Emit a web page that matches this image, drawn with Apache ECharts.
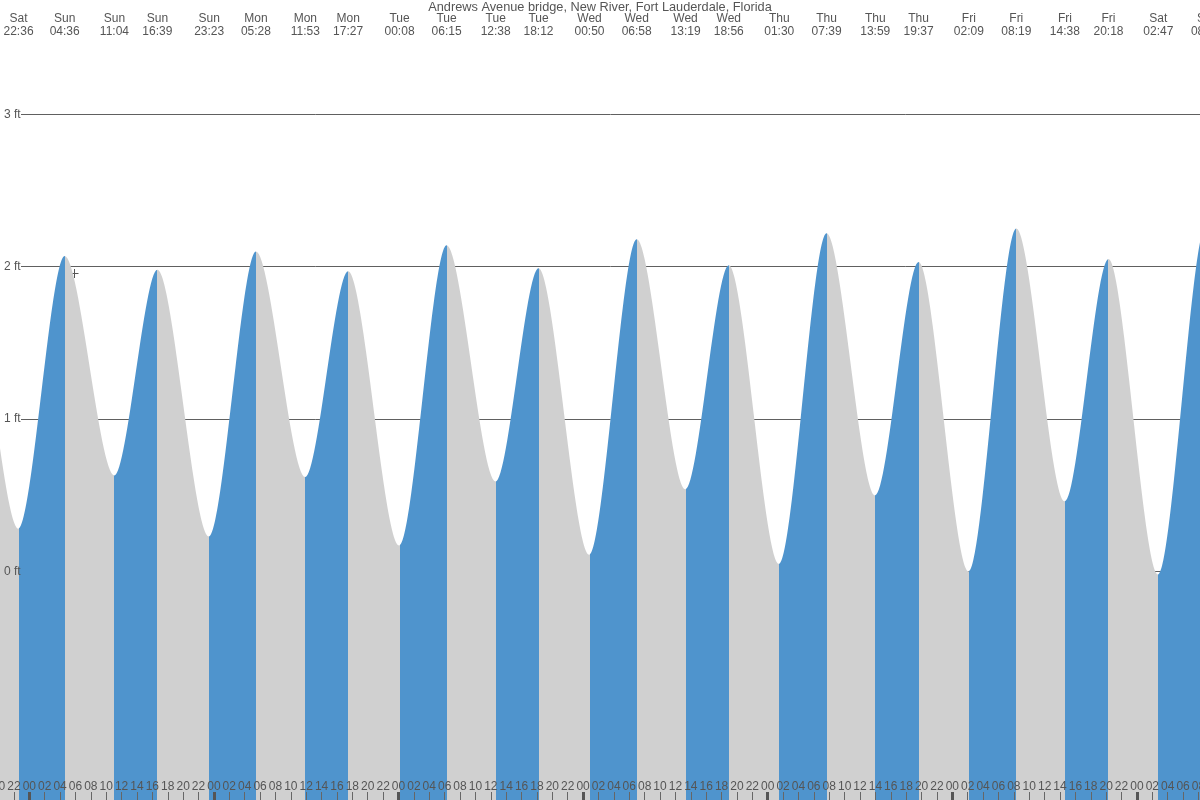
<!DOCTYPE html>
<html><head><meta charset="utf-8">
<script src="https://cdn.jsdelivr.net/npm/echarts@6/dist/echarts.min.js"></script>
<style>html,body{margin:0;padding:0;background:#fff}#c{width:1200px;height:800px}</style>
</head><body><div id="c"></div>
<script>
const chartTitle = 'Andrews Avenue bridge, New River, Fort Lauderdale, Florida';
// Tide extremes (first two and last lie just outside the visible window)
const tideDays = ['Sat','Sat','Sat','Sun','Sun','Sun','Sun','Mon','Mon','Mon','Tue','Tue','Tue','Tue','Wed','Wed','Wed','Wed','Thu','Thu','Thu','Thu','Fri','Fri','Fri','Fri','Sat','Sat','Sat'];
const tideTimes = ['10:15','16:00','22:36','04:36','11:04','16:39','23:23','05:28','11:53','17:27','00:08','06:15','12:38','18:12','00:50','06:58','13:19','18:56','01:30','07:39','13:59','19:37','02:09','08:19','14:38','20:18','02:47','08:58','15:17'];
const tideHeights = [0.64,1.98,0.28,2.07,0.63,1.98,0.23,2.10,0.62,1.97,0.17,2.14,0.59,1.99,0.11,2.18,0.54,2.01,0.05,2.22,0.50,2.03,0.00,2.25,0.46,2.05,-0.02,2.27,0.42];
// visible window, hours from Sunday 00:00
const viewStart = -3.81;
const viewEnd = 152.2;
const yTicks = [0, 1, 2, 3];

const BLUE = '#4f94cd', GRAY = '#d0d0d0', TXT = '#555';
const FONT = "'Liberation Sans', Arial, sans-serif";

// hours since Sunday 00:00 (day index advances when clock time rolls over)
const tideHours = [];
let day = -1, prev = -1;
tideTimes.forEach(t => {
  const [hh, mm] = t.split(':').map(Number);
  const tod = hh + mm / 60;
  if (prev >= 0 && tod < prev) day++;
  prev = tod;
  tideHours.push(day * 24 + tod);
});

const evenHours = [];
for (let h = -4; h <= 152; h += 2) evenHours.push(h);
const midnights = evenHours.filter(h => h % 24 === 0);

const pph = 1200 / (viewEnd - viewStart);

const pieces = [];
for (let i = 0; i < tideHours.length - 1; i++) {
  pieces.push({ gte: tideHours[i], lt: tideHours[i + 1], color: tideHeights[i + 1] > tideHeights[i] ? BLUE : GRAY });
}

const pad = v => { const m = ((Math.round(v) % 24) + 24) % 24; return (m < 10 ? '0' : '') + m; };

const chart = echarts.init(document.getElementById('c'));
chart.setOption({
  animation: false,
  backgroundColor: '#fff',
  textStyle: { fontFamily: FONT },
  title: { text: chartTitle, left: 'center', top: 1, padding: 0,
    textStyle: { fontSize: 12.75, fontWeight: 'normal', color: TXT, fontFamily: FONT } },
  grid: [
    { left: 0, right: 0, top: -38.1, bottom: -76.2, outerBoundsMode: 'none', containLabel: false },
    { left: 21, right: 0, top: -38.1, bottom: -76.2, outerBoundsMode: 'none', containLabel: false },
    { left: -20, right: 0, bottom: 0, height: 10, outerBoundsMode: 'none', containLabel: false },
    { left: 0, right: -60, top: 40, height: 1, outerBoundsMode: 'none', containLabel: false }
  ],
  visualMap: { type: 'piecewise', show: false, dimension: 0, seriesIndex: 0, pieces: pieces },
  xAxis: [
    { gridIndex: 0, type: 'value', min: viewStart, max: viewEnd, show: false },
    { gridIndex: 1, type: 'value', min: 0, max: 1, show: false },
    { gridIndex: 2, type: 'value', min: viewStart - 20 / pph, max: viewEnd, position: 'bottom', z: 10,
      axisLine: { show: false }, splitLine: { show: false },
      axisTick: { show: true, inside: true, length: 8, customValues: evenHours, lineStyle: { color: '#666', width: 1 } },
      axisLabel: { inside: true, margin: 7, customValues: evenHours, formatter: v => pad(v), color: TXT, fontSize: 12, fontFamily: FONT } },
    { gridIndex: 2, type: 'value', min: viewStart - 20 / pph, max: viewEnd, position: 'bottom', z: 11,
      axisLine: { show: false }, splitLine: { show: false },
      axisTick: { show: true, inside: true, length: 8, customValues: midnights, lineStyle: { color: '#555', width: 3 } },
      axisLabel: { show: false } },
    { gridIndex: 3, type: 'value', min: viewStart, max: viewEnd + 60 / pph, position: 'top', z: 10,
      axisLine: { show: false }, splitLine: { show: false }, axisTick: { show: false },
      axisLabel: { customValues: tideHours.slice(2, -1), margin: 2, lineHeight: 13, color: TXT, fontSize: 12, fontFamily: FONT,
        formatter: v => { const i = tideHours.findIndex(h => Math.abs(h - v) < 1e-6); return i < 0 ? '' : tideDays[i] + '\n' + tideTimes[i]; } } }
  ],
  yAxis: [
    { gridIndex: 0, type: 'value', min: -2, max: 4, interval: 1, z: 10,
      axisLine: { show: false }, axisTick: { show: false }, splitLine: { show: false },
      axisLabel: { inside: true, margin: 4, color: TXT, fontSize: 12, fontFamily: FONT,
        formatter: v => yTicks.indexOf(v) >= 0 ? v + ' ft' : '' } },
    { gridIndex: 1, type: 'value', min: -2, max: 4, interval: 1,
      axisLine: { show: false }, axisTick: { show: false }, axisLabel: { show: false },
      splitLine: { show: true, lineStyle: { color: '#606060', width: 1 } } },
    { gridIndex: 2, type: 'value', show: false },
    { gridIndex: 3, type: 'value', show: false }
  ],
  graphic: [
    { type: 'group', x: 74, y: 273, z: 100, children: [
      { type: 'line', shape: { x1: -4.5, y1: 0.5, x2: 4.5, y2: 0.5 }, style: { stroke: '#555', lineWidth: 1 } },
      { type: 'line', shape: { x1: 0.5, y1: -4, x2: 0.5, y2: 5 }, style: { stroke: '#555', lineWidth: 1 } }
    ] }
  ],
  series: [{
    type: 'line', xAxisIndex: 0, yAxisIndex: 0,
    data: tideHours.map((h, i) => [h, tideHeights[i]]),
    smooth: 0.3, smoothMonotone: 'x', symbol: 'none', silent: true,
    lineStyle: { width: 0 },
    areaStyle: { opacity: 1, origin: 'start' }
  }]
});
</script>
</body></html>
